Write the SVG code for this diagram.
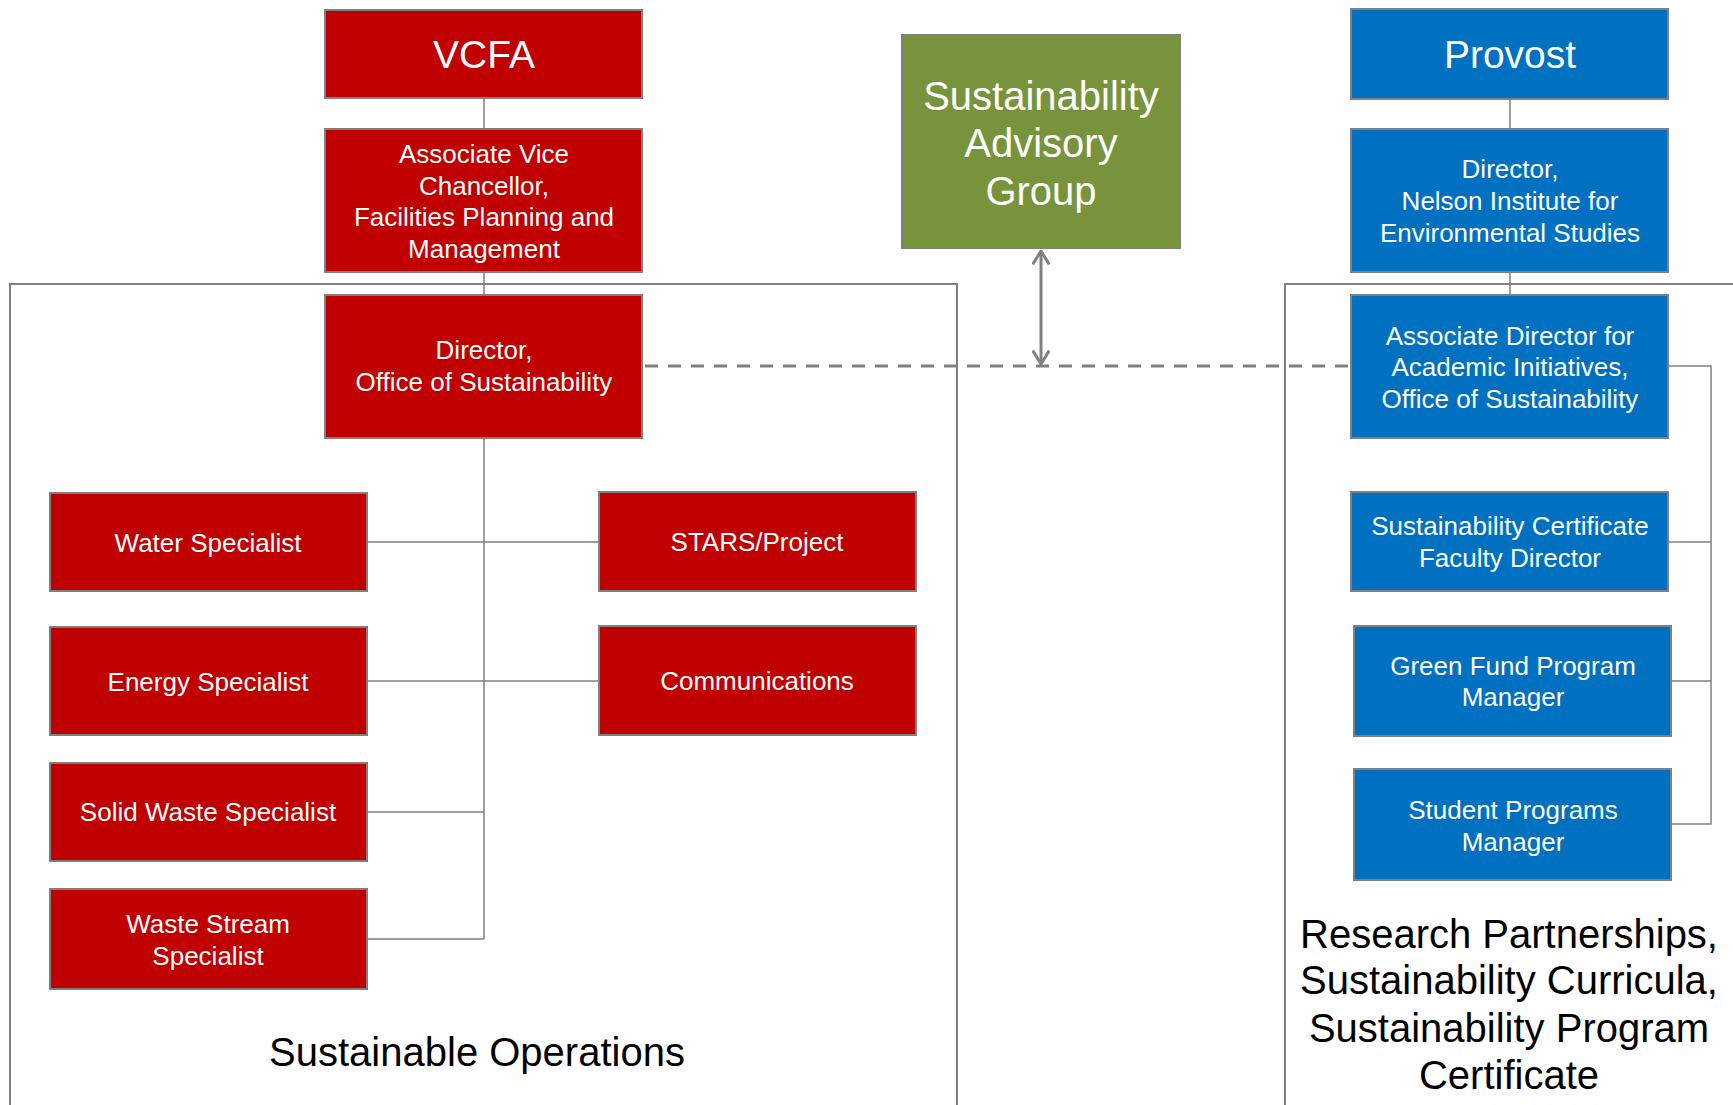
<svg xmlns="http://www.w3.org/2000/svg" width="1733" height="1105" viewBox="0 0 1733 1105">
<defs>
<style>
.box{stroke:#808080;stroke-width:2}
.red{fill:#C00000}
.blue{fill:#0070C0}
.green{fill:#77933C}
.t{font-family:"Liberation Sans",Arial,sans-serif;fill:#fff;text-anchor:middle}
.s26{font-size:26px}
.s39{font-size:39px}
.s40{font-size:40px}
.lbl{font-family:"Liberation Sans",Arial,sans-serif;fill:#000;text-anchor:middle;font-size:40px}
.frame{fill:none;stroke:#808080;stroke-width:2}
.conn{fill:none;stroke:#808080;stroke-width:1.5}
.dash{fill:none;stroke:#808080;stroke-width:3;stroke-dasharray:13 10}
.arr{fill:none;stroke:#808080;stroke-width:3}
</style>
<marker id="chev" viewBox="0 0 12 12" refX="11" refY="6" markerWidth="6" markerHeight="6" orient="auto-start-reverse" markerUnits="strokeWidth">
<path d="M2,0.5 L11,6 L2,11.5" fill="none" stroke="#808080" stroke-width="2"/>
</marker>
</defs>
<rect width="1733" height="1105" fill="#fff"/>

<g id="frames">
<path class="frame" d="M10,1105 V284 H957 V1105"/>
<path class="frame" d="M1285,1105 V284 H1733"/>
</g>

<g id="connectors">
<path class="conn" d="M484,98 V129 M484,272 V295"/>
<path class="conn" d="M1510,99 V129 M1510,272 V295"/>
<path class="conn" d="M484,438 V939 M367,542 H599 M367,681 H599 M367,812 H484 M367,939 H484"/>
<path class="conn" d="M1668,366 H1711 V824 H1671 M1668,542 H1711 M1671,681 H1711"/>
<path class="dash" d="M645,366 H1351"/>
<path class="arr" d="M1041,251 V364" marker-start="url(#chev)" marker-end="url(#chev)"/>
</g>

<g id="vcfa">
<rect class="box red" x="325" y="10" width="317" height="88"/>
<text class="t s39" x="484" y="68">VCFA</text>
</g>
<g id="avc">
<rect class="box red" x="325" y="129" width="317" height="143"/>
<text class="t s26" x="484" y="163">Associate Vice</text>
<text class="t s26" x="484" y="195">Chancellor,</text>
<text class="t s26" x="484" y="226">Facilities Planning and</text>
<text class="t s26" x="484" y="258">Management</text>
</g>
<g id="director-oos">
<rect class="box red" x="325" y="295" width="317" height="143"/>
<text class="t s26" x="484" y="359">Director,</text>
<text class="t s26" x="484" y="391">Office of Sustainability</text>
</g>
<g id="water">
<rect class="box red" x="50" y="493" width="317" height="98"/>
<text class="t s26" x="208" y="552">Water Specialist</text>
</g>
<g id="energy">
<rect class="box red" x="50" y="627" width="317" height="108"/>
<text class="t s26" x="208" y="691">Energy Specialist</text>
</g>
<g id="solid-waste">
<rect class="box red" x="50" y="763" width="317" height="98"/>
<text class="t s26" x="208" y="821">Solid Waste Specialist</text>
</g>
<g id="waste-stream">
<rect class="box red" x="50" y="889" width="317" height="100"/>
<text class="t s26" x="208" y="933">Waste Stream</text>
<text class="t s26" x="208" y="965">Specialist</text>
</g>
<g id="stars">
<rect class="box red" x="599" y="492" width="317" height="99"/>
<text class="t s26" x="757" y="551">STARS/Project</text>
</g>
<g id="communications">
<rect class="box red" x="599" y="626" width="317" height="109"/>
<text class="t s26" x="757" y="690">Communications</text>
</g>
<g id="sag">
<rect class="box green" x="902" y="35" width="278" height="213"/>
<text class="t s40" x="1041" y="110">Sustainability</text>
<text class="t s40" x="1041" y="157">Advisory</text>
<text class="t s40" x="1041" y="205">Group</text>
</g>
<g id="provost">
<rect class="box blue" x="1351" y="9" width="317" height="90"/>
<text class="t s39" x="1510" y="68">Provost</text>
</g>
<g id="director-nelson">
<rect class="box blue" x="1351" y="129" width="317" height="143"/>
<text class="t s26" x="1510" y="178">Director,</text>
<text class="t s26" x="1510" y="210">Nelson Institute for</text>
<text class="t s26" x="1510" y="242">Environmental Studies</text>
</g>
<g id="assoc-director">
<rect class="box blue" x="1351" y="295" width="317" height="143"/>
<text class="t s26" x="1510" y="345">Associate Director for</text>
<text class="t s26" x="1510" y="376">Academic Initiatives,</text>
<text class="t s26" x="1510" y="408">Office of Sustainability</text>
</g>
<g id="cert-director">
<rect class="box blue" x="1351" y="492" width="317" height="99"/>
<text class="t s26" x="1510" y="535">Sustainability Certificate</text>
<text class="t s26" x="1510" y="567">Faculty Director</text>
</g>
<g id="green-fund">
<rect class="box blue" x="1354" y="626" width="317" height="110"/>
<text class="t s26" x="1513" y="675">Green Fund Program</text>
<text class="t s26" x="1513" y="706">Manager</text>
</g>
<g id="student-programs">
<rect class="box blue" x="1354" y="769" width="317" height="111"/>
<text class="t s26" x="1513" y="819">Student Programs</text>
<text class="t s26" x="1513" y="851">Manager</text>
</g>

<g id="labels">
<text class="lbl" x="477" y="1066">Sustainable Operations</text>
<text class="lbl" x="1509" y="948">Research Partnerships,</text>
<text class="lbl" x="1509" y="994">Sustainability Curricula,</text>
<text class="lbl" x="1509" y="1042">Sustainability Program</text>
<text class="lbl" x="1509" y="1089">Certificate</text>
</g>
</svg>
